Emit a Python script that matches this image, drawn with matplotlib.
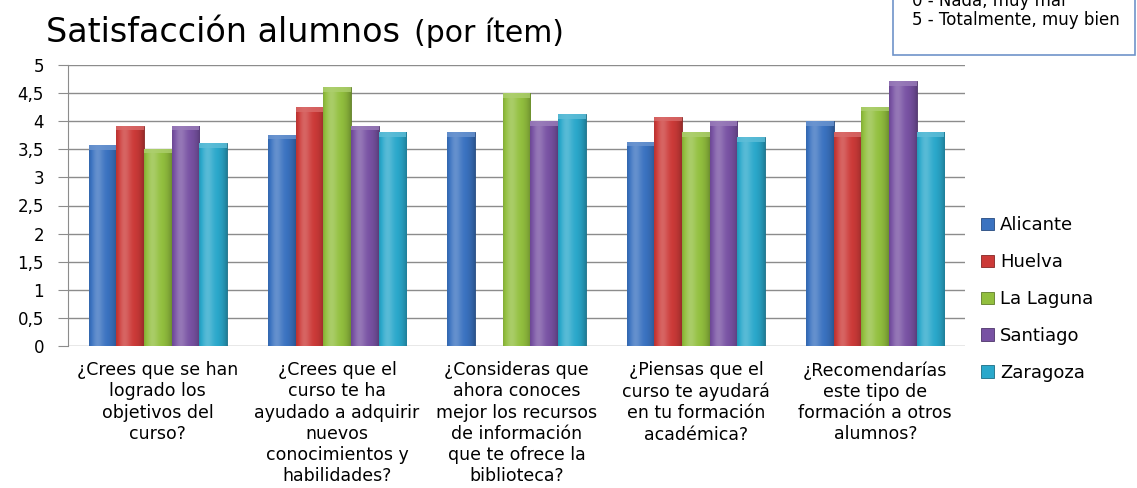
import numpy as np
import matplotlib
matplotlib.use("Agg")
import matplotlib.pyplot as plt
from matplotlib.colors import to_rgb
from matplotlib.patches import Rectangle

plt.rcParams['font.family'] = ['DejaVu Sans']

categories = [
    "¿Crees que se han\nlogrado los\nobjetivos del\ncurso?",
    "¿Crees que el\ncurso te ha\nayudado a adquirir\nnuevos\nconocimientos y\nhabilidades?",
    "¿Consideras que\nahora conoces\nmejor los recursos\nde información\nque te ofrece la\nbiblioteca?",
    "¿Piensas que el\ncurso te ayudará\nen tu formación\nacadémica?",
    "¿Recomendarías\neste tipo de\nformación a otros\nalumnos?",
]
series_names = ["Alicante", "Huelva", "La Laguna", "Santiago", "Zaragoza"]
alicante = [3.57, 3.76, 3.80, 3.63, 4.00]
huelva = [3.92, 4.25, 0.0, 4.08, 3.80]
la_laguna = [3.51, 4.60, 4.50, 3.80, 4.26]
santiago = [3.92, 3.92, 4.00, 4.00, 4.71]
zaragoza = [3.61, 3.80, 4.12, 3.71, 3.80]
series_values = [alicante, huelva, la_laguna, santiago, zaragoza]
colors = ["#3a72c0", "#cc3a38", "#92bf3e", "#7852a3", "#2aa8cb"]
yticks = [0, 0.5, 1, 1.5, 2, 2.5, 3, 3.5, 4, 4.5, 5]
ytick_labels = ["0", "0,5", "1", "1,5", "2", "2,5", "3", "3,5", "4", "4,5", "5"]

W, H = 1137, 488
fig = plt.figure(figsize=(W / 100, H / 100), dpi=100)
ax = fig.add_axes([68 / W, 1 - 346 / H, (965 - 68) / W, (346 - 65) / H])

n = len(series_names)
x = np.arange(len(categories))
group_w = 0.77
bw = group_w / n


def shade(c, f):
    r = np.array(to_rgb(c))
    if f >= 0:
        return r + (1 - r) * f
    return r * (1 + f)


prof = np.linspace(0, 1, 64)
bright = 0.22 * np.exp(-((prof - 0.3) / 0.22) ** 2) - 0.25 * (np.abs(prof - 0.45) / 0.55) ** 3

for i, (name, vals, col) in enumerate(zip(series_names, series_values, colors)):
    xs = x - group_w / 2 + bw * (i + 0.5)
    bars = ax.bar(xs, vals, width=bw, color=col, label=name, zorder=3,
                  edgecolor=shade(col, -0.35), linewidth=0.6)
    img = np.clip(np.array([[shade(col, b) for b in bright]]), 0, 1)
    for b, v in zip(bars, vals):
        if v <= 0:
            continue
        bx = b.get_x()
        im = ax.imshow(img, extent=[bx, bx + bw, 0, v], aspect='auto',
                       zorder=3.5, interpolation='bilinear')
        im.set_clip_path(b)
        cap = min(0.08, v)
        ax.add_patch(Rectangle((bx, v - cap), bw, cap, color=shade(col, 0.25),
                               zorder=3.6, linewidth=0, alpha=0.8))

ax.set_xlim(-0.5, len(categories) - 0.5)
ax.set_ylim(0, 5)
ax.set_yticks(yticks)
ax.set_yticklabels(ytick_labels, fontsize=12)
ax.yaxis.grid(True, color="#8c8c8c", linewidth=1.0, zorder=0)
ax.set_axisbelow(True)
for s in ["top", "right", "bottom"]:
    ax.spines[s].set_visible(False)
ax.spines["left"].set_color("#8c8c8c")
ax.tick_params(axis='y', length=7.2, color="#8c8c8c", pad=10)
ax.tick_params(axis='x', length=0, pad=11)
ax.set_xticks(x)
ax.set_xticklabels(categories, fontsize=12.5, linespacing=1.23, va='top')

fig.text(46 / W, 1 - 42 / H, "Satisfacción alumnos", fontsize=24, va='baseline', ha='left')
fig.text(414 / W, 1 - 42 / H, "(por ítem)", fontsize=21.5, va='baseline', ha='left')

box = Rectangle((893 / W, 1 - 55 / H), (1135 - 893) / W, 60 / H, transform=fig.transFigure,
                facecolor="white", edgecolor="#6f94c9", linewidth=1.2, clip_on=False)
fig.add_artist(box)
fig.text(912 / W, 1 - 1 / H, "0 - Nada, muy mal", fontsize=12, va='center', ha='left')
fig.text(912 / W, 1 - 20 / H, "5 - Totalmente, muy bien", fontsize=12, va='center', ha='left')

fig.legend(loc='upper left', bbox_to_anchor=(974 / W, 1 - 209 / H), frameon=False,
           fontsize=13, handlelength=0.7, handleheight=0.7, labelspacing=1.05,
           handletextpad=0.35, borderaxespad=0)

fig.savefig("out.png", dpi=100, facecolor="white")
